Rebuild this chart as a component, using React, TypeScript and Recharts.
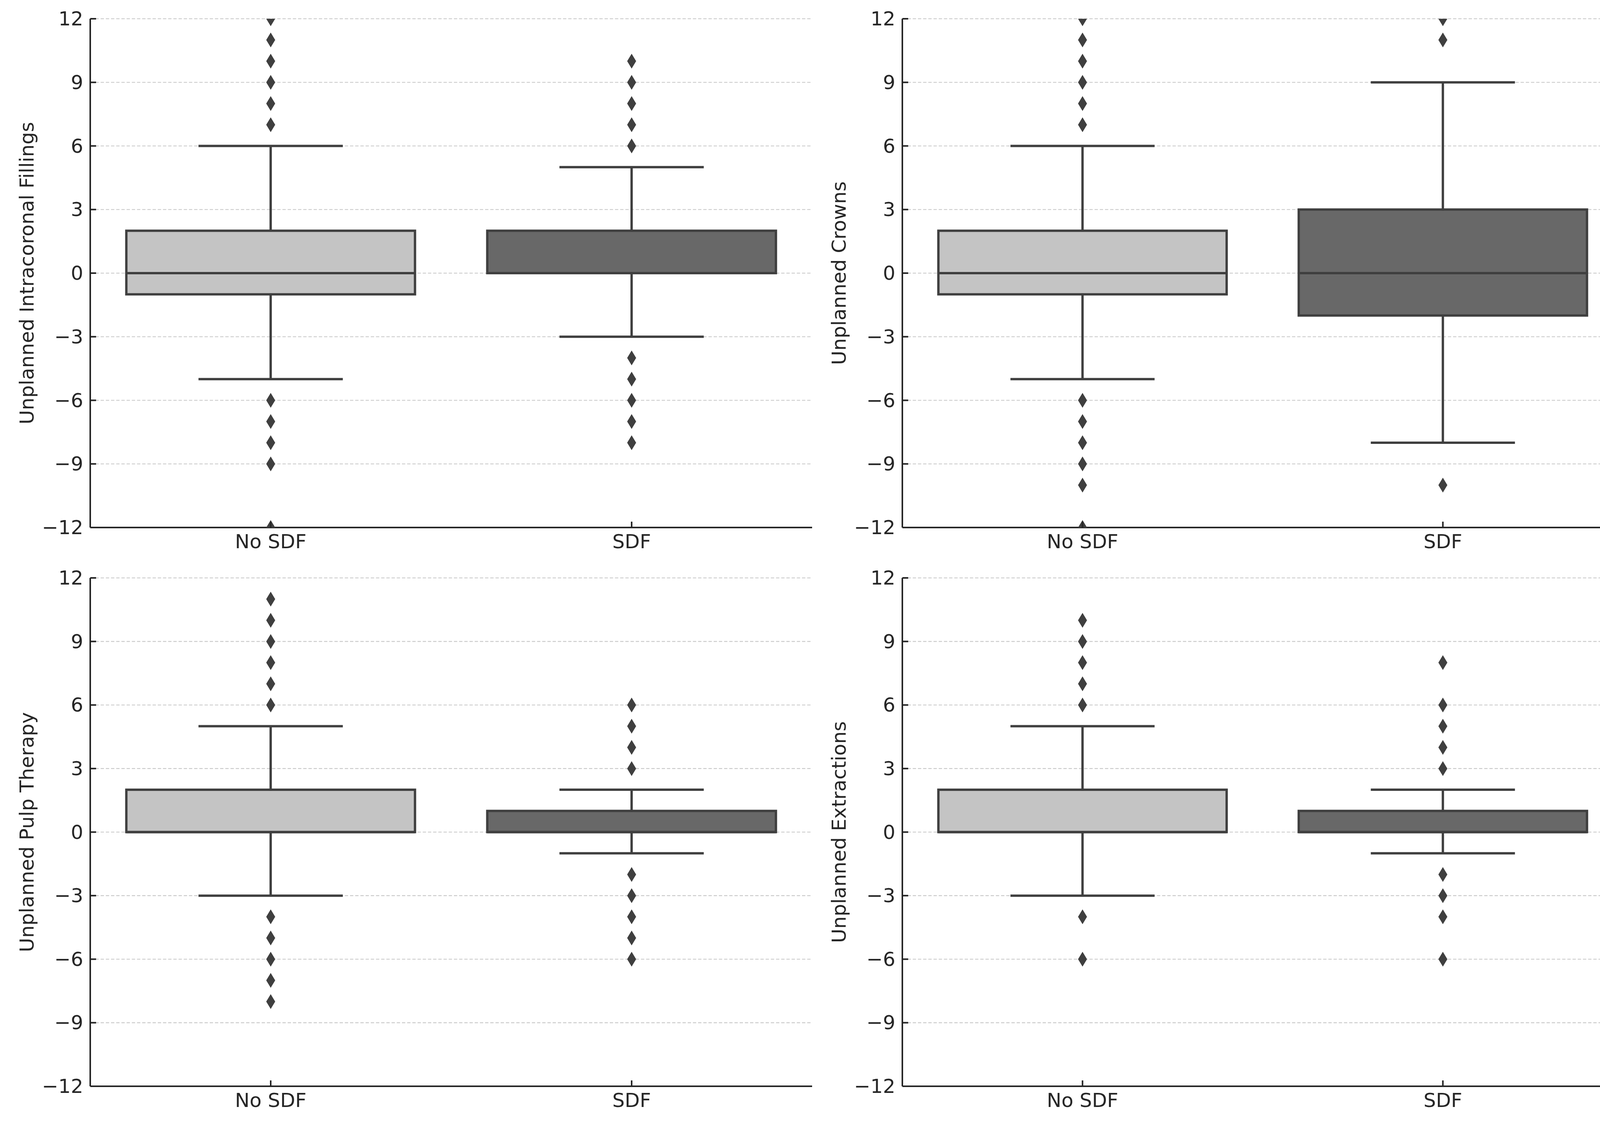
import React from 'react';
import { ComposedChart, Bar, Scatter, XAxis, YAxis, CartesianGrid } from 'recharts';

// y ticks shared by all four panels
const Y_TICKS = [-12, -9, -6, -3, 0, 3, 6, 9, 12];

// Unplanned Intracoronal Fillings
const fillingsBoxes = [
  { group: 'No SDF', low: -5, q1: -1, median: 0, q3: 2, high: 6 },
  { group: 'SDF', low: -3, q1: 0, median: 0, q3: 2, high: 5 },
];
const fillingsOutNoSdf = [12, 11, 10, 9, 8, 7, -6, -7, -8, -9, -12];
const fillingsOutSdf = [10, 9, 8, 7, 6, -4, -5, -6, -7, -8];

// Unplanned Crowns
const crownsBoxes = [
  { group: 'No SDF', low: -5, q1: -1, median: 0, q3: 2, high: 6 },
  { group: 'SDF', low: -8, q1: -2, median: 0, q3: 3, high: 9 },
];
const crownsOutNoSdf = [12, 11, 10, 9, 8, 7, -6, -7, -8, -9, -10, -12];
const crownsOutSdf = [12, 11, -10];

// Unplanned Pulp Therapy
const pulpBoxes = [
  { group: 'No SDF', low: -3, q1: 0, median: 0, q3: 2, high: 5 },
  { group: 'SDF', low: -1, q1: 0, median: 0, q3: 1, high: 2 },
];
const pulpOutNoSdf = [11, 10, 9, 8, 7, 6, -4, -5, -6, -7, -8];
const pulpOutSdf = [6, 5, 4, 3, -2, -3, -4, -5, -6];

// Unplanned Extractions
const extractionsBoxes = [
  { group: 'No SDF', low: -3, q1: 0, median: 0, q3: 2, high: 5 },
  { group: 'SDF', low: -1, q1: 0, median: 0, q3: 1, high: 2 },
];
const extractionsOutNoSdf = [10, 9, 8, 7, 6, -4, -6];
const extractionsOutSdf = [8, 6, 5, 4, 3, -2, -3, -4, -6];

const GROUP_FILL: Record<string, string> = { 'No SDF': '#c4c4c4', SDF: '#686868' };
const LINE = '#3f3f3f';
const INK = '#262626';
const FONT = '"DejaVu Sans", sans-serif';
const FS = 50;

const toOutliers = (noSdf: number[], sdf: number[]) => [
  ...noSdf.map((value) => ({ group: 'No SDF', value })),
  ...sdf.map((value) => ({ group: 'SDF', value })),
];

const fmt = (v: number) => String(v).replace('-', '\u2212');

// whole box + whiskers drawn from the bar spanning low..high
const BoxShape = (props: any) => {
  const { x, y, width, height, payload } = props;
  const top = Math.min(y, y + height);
  const bottom = Math.max(y, y + height);
  const { low, q1, median, q3, high, group } = payload;
  const px = (v: number) => bottom - ((v - low) / (high - low)) * (bottom - top);
  const cx = x + width / 2;
  const cap = width / 4;
  return (
    <g>
      <line x1={cx} x2={cx} y1={px(high)} y2={px(q3)} stroke={LINE} strokeWidth={6} />
      <line x1={cx} x2={cx} y1={px(q1)} y2={px(low)} stroke={LINE} strokeWidth={6} />
      <line x1={cx - cap} x2={cx + cap} y1={px(high)} y2={px(high)} stroke={LINE} strokeWidth={6} />
      <line x1={cx - cap} x2={cx + cap} y1={px(low)} y2={px(low)} stroke={LINE} strokeWidth={6} />
      <rect x={x} y={px(q3)} width={width} height={px(q1) - px(q3)} fill={GROUP_FILL[group]} stroke={LINE} strokeWidth={6} />
      <line x1={x} x2={x + width} y1={px(median)} y2={px(median)} stroke={LINE} strokeWidth={6} />
    </g>
  );
};

const Diamond = (props: any) => {
  const { cx, cy } = props;
  if (cx == null || cy == null) return null;
  const w = 11.5;
  const h = 19;
  return <path d={`M${cx},${cy - h}L${cx + w},${cy}L${cx},${cy + h}L${cx - w},${cy}Z`} fill={LINE} />;
};

const YTick = (props: any) => {
  const { x, y, payload } = props;
  return (
    <g>
      <line x1={x} x2={x + 15} y1={y} y2={y} stroke={INK} strokeWidth={4} />
      <text x={x - 18} y={y} textAnchor="end" dominantBaseline="central" fontSize={FS} fontFamily={FONT} fill={INK}>
        {fmt(payload.value)}
      </text>
    </g>
  );
};

const XTick = (props: any) => {
  const { x, y, payload } = props;
  return (
    <g>
      <line x1={x} x2={x} y1={y} y2={y - 15} stroke={INK} strokeWidth={4} />
      <text x={x} y={y + 53} textAnchor="middle" fontSize={FS} fontFamily={FONT} fill={INK}>
        {payload.value}
      </text>
    </g>
  );
};

interface PanelProps {
  left: number;
  top: number;
  yAxisWidth: number;
  marginTop: number;
  marginRight: number;
  xAxisHeight: number;
  title: string;
  boxes: any[];
  outliers: any[];
}

const Panel: React.FC<PanelProps> = ({ left, top, yAxisWidth, marginTop, marginRight, xAxisHeight, title, boxes, outliers }) => (
  <div style={{ position: 'absolute', left, top }}>
    <ComposedChart
      width={2100}
      height={1437}
      data={boxes}
      margin={{ top: marginTop, right: marginRight, bottom: 0, left: 0 }}
      barCategoryGap="10%"
    >
      <CartesianGrid vertical={false} stroke="#c8c8c8" strokeWidth={2.2} strokeDasharray="8.5 4.8" />
      <XAxis
        dataKey="group"
        type="category"
        allowDuplicatedCategory={false}
        height={xAxisHeight}
        tickSize={0}
        tickMargin={0}
        tickLine={false}
        axisLine={{ stroke: INK, strokeWidth: 4 }}
        tick={<XTick />}
      />
      <YAxis
        type="number"
        domain={[-12, 12]}
        ticks={Y_TICKS}
        allowDataOverflow
        width={yAxisWidth}
        tickSize={0}
        tickMargin={0}
        tickLine={false}
        axisLine={{ stroke: INK, strokeWidth: 4 }}
        tick={<YTick />}
        label={(p: any) => {
          const vb = p.viewBox || {};
          const lx = vb.x + vb.width - 145;
          const ly = vb.y + vb.height / 2;
          return (
            <text x={lx} y={ly} transform={`rotate(-90, ${lx}, ${ly})`} textAnchor="middle" fontSize={FS} fontFamily={FONT} fill={INK}>
              {title}
            </text>
          );
        }}
      />
      <Bar dataKey={(d: any) => [d.low, d.high]} shape={<BoxShape />} isAnimationActive={false} />
      <Scatter data={outliers} dataKey="value" shape={<Diamond />} isAnimationActive={false} />
    </ComposedChart>
  </div>
);

export default function App() {
  return (
    <div style={{ position: 'absolute', left: 0, top: 0, width: 4200, height: 2874, background: '#ffffff' }}>
      <Panel left={0} top={0} yAxisWidth={231} marginTop={48} marginRight={21} xAxisHeight={87}
        title="Unplanned Intracoronal Fillings" boxes={fillingsBoxes} outliers={toOutliers(fillingsOutNoSdf, fillingsOutSdf)} />
      <Panel left={2100} top={0} yAxisWidth={210} marginTop={48} marginRight={45} xAxisHeight={87}
        title="Unplanned Crowns" boxes={crownsBoxes} outliers={toOutliers(crownsOutNoSdf, crownsOutSdf)} />
      <Panel left={0} top={1437} yAxisWidth={231} marginTop={42} marginRight={21} xAxisHeight={94}
        title="Unplanned Pulp Therapy" boxes={pulpBoxes} outliers={toOutliers(pulpOutNoSdf, pulpOutSdf)} />
      <Panel left={2100} top={1437} yAxisWidth={210} marginTop={42} marginRight={45} xAxisHeight={94}
        title="Unplanned Extractions" boxes={extractionsBoxes} outliers={toOutliers(extractionsOutNoSdf, extractionsOutSdf)} />
    </div>
  );
}
